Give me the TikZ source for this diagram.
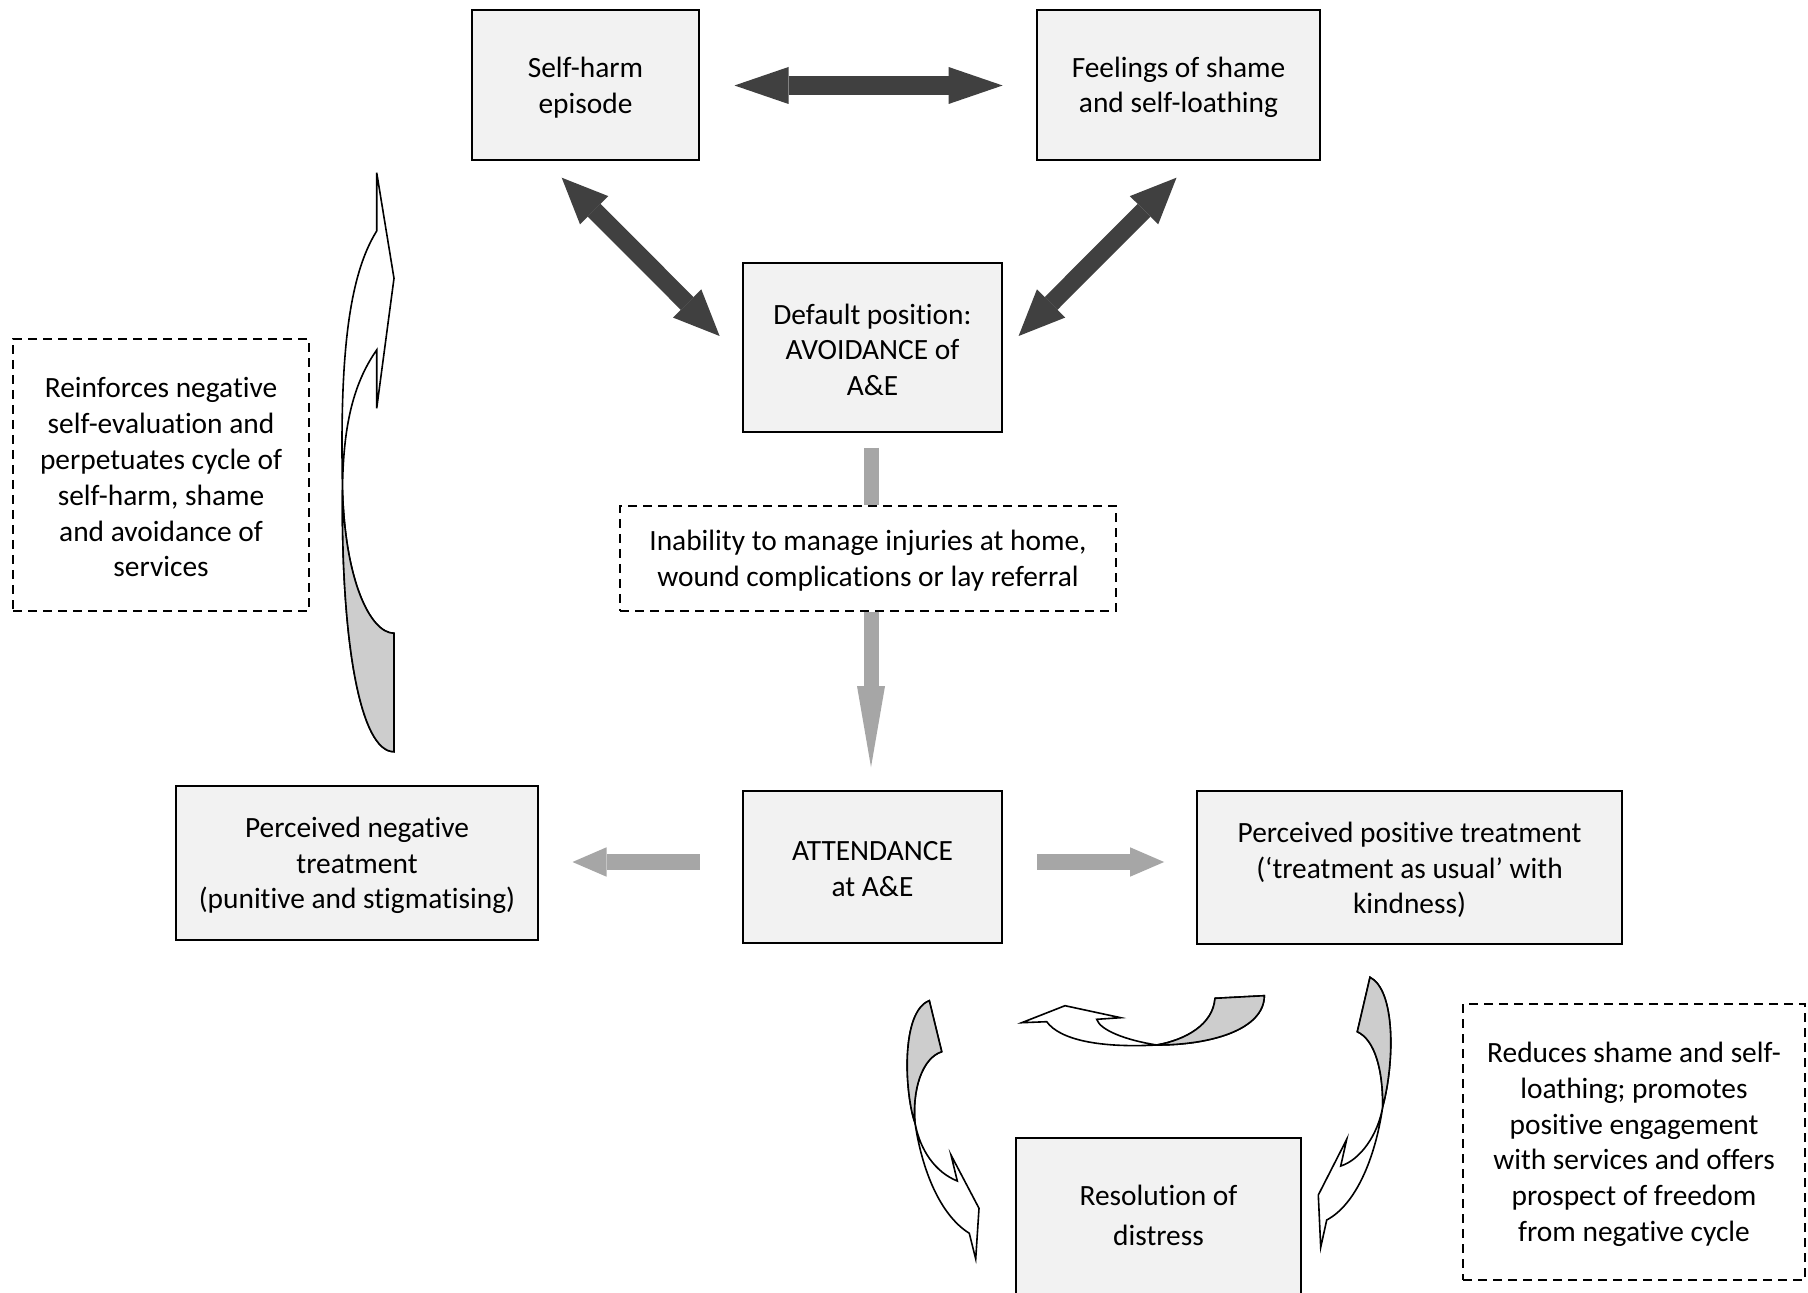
\documentclass[tikz,border=0pt]{standalone}
\usepackage{fontspec}
\setmainfont{Carlito}[Ligatures=NoCommon]
\usetikzlibrary{arrows.meta}
\definecolor{boxgray}{HTML}{F2F2F2}
\definecolor{darkarr}{HTML}{404040}
\definecolor{lightarr}{HTML}{A6A6A6}
\definecolor{ribbon}{HTML}{CDCDCD}
\tikzset{
  txt/.style={label={[align=center, inner sep=0pt, font=\fontsize{14.7}{17.9}\selectfont, yshift=-1.2pt]center:{#1}}},
  txtup/.style={label={[align=center, inner sep=0pt, font=\fontsize{14.7}{17.9}\selectfont, yshift=1.8pt]center:{#1}}},
  solidbox/.style={draw, fill=boxgray, line width=0.9pt, inner sep=0pt},
  dashbox/.style={draw, fill=white, line width=0.7pt, dash pattern=on 4.5pt off 3pt, inner sep=0pt},
  darrow/.style={draw=darkarr, line width=9.5pt,
    {Triangle[length=27pt,width=18.5pt,line width=0pt]}-{Triangle[length=27pt,width=18.5pt,line width=0pt]}},
  ddarrow/.style={draw=darkarr, line width=9pt,
    {Triangle[length=23pt,width=20pt,line width=0pt]}-{Triangle[length=23pt,width=20pt,line width=0pt]}},
  garrowv/.style={draw=lightarr, line width=7.5pt, -{Triangle[length=40.5pt,width=14pt,line width=0pt]}},
  garrowh/.style={draw=lightarr, line width=8pt, -{Triangle[length=17pt,width=14.7pt,line width=0pt]}},
  gbar/.style={draw=lightarr, line width=7.5pt},
  ribwhite/.style={fill=white, draw=black, line width=0.8pt, line join=miter},
  ribgray/.style={fill=ribbon, draw=black, line width=0.8pt, line join=miter}
}
\begin{document}
\begin{tikzpicture}[x=0.5pt, y=-0.5pt]
\useasboundingbox (0,0) rectangle (1808,1293);
\fill[white] (0,0) rectangle (1808,1293);

% boxes
\node[solidbox, minimum width=113.5pt, minimum height=75pt, txt={Self-harm\\episode}] (sh) at (585.5,85) {};
\node[solidbox, minimum width=141.5pt, minimum height=75pt, txt={Feelings of shame\\and self-loathing}] (fs) at (1178.5,85) {};
\node[solidbox, minimum width=129.5pt, minimum height=84.5pt, txt={Default position:\\AVOIDANCE of\\A\&E}] (dp) at (872.5,347.5) {};
\node[dashbox, minimum width=248pt, minimum height=52.5pt, txt={Inability to manage injuries at home,\\wound complications or lay referral}] (inab) at (868,558.5) {};
\node[dashbox, minimum width=148pt, minimum height=136pt, txt={Reinforces negative\\self-evaluation and\\perpetuates cycle of\\self-harm, shame\\and avoidance of\\services}] (rein) at (161,475) {};
\node[solidbox, minimum width=181pt, minimum height=77pt, txt={Perceived negative\\treatment\\(punitive and stigmatising)}] (neg) at (357,863) {};
\node[solidbox, minimum width=129.5pt, minimum height=76pt, txt={ATTENDANCE\\at A\&E}] (att) at (872.5,867) {};
\node[solidbox, minimum width=212.5pt, minimum height=76.5pt, txt={Perceived positive treatment\\(‘treatment as usual’ with\\kindness)}] (pos) at (1409.5,867.5) {};
\node[solidbox, minimum width=142.5pt, minimum height=81pt, txtup={Resolution of\\[2pt]distress}] (res) at (1158.5,1219) {};
\node[dashbox, minimum width=171pt, minimum height=138pt, txt={Reduces shame and self-\\loathing; promotes\\positive engagement\\with services and offers\\prospect of freedom\\from negative cycle}] (red) at (1634,1142) {};

% dark double arrows
\coordinate (hl) at (734.5,85.5);
\coordinate (hr) at (1002.6,85.5);
\coordinate (d1a) at (561.7,177.7);
\coordinate (d1b) at (719.6,336);
\coordinate (d2a) at (1176.5,177.7);
\coordinate (d2b) at (1018.6,336);
\draw[darrow] (hl) -- (hr);
\draw[ddarrow] (d1a) -- (d1b);
\draw[ddarrow] (d2a) -- (d2b);

% light gray arrows
\draw[gbar, shorten <=7.5pt] ([xshift=-0.75pt]dp.south) -- ([xshift=-0.75pt]dp.south |- inab.north);
\draw[garrowv, shorten >=11.5pt] ([xshift=-0.75pt]dp.south |- inab.south) -- ([xshift=-0.75pt]dp.south |- att.north);
\draw[garrowh, shorten <=21.25pt, shorten >=16.8pt] ([yshift=2.5pt]att.west) -- ([yshift=2.5pt]att.west -| neg.east);
\draw[garrowh, shorten <=17pt, shorten >=16pt] ([yshift=2.5pt]att.east) -- ([yshift=2.5pt]att.east -| pos.west);

% big left curved arrow
\filldraw[ribwhite] (394,751.7) .. controls (360,752) and (341,640) .. (342.5,490)
  .. controls (340,370) and (346,280) .. (376.7,231)
  -- (376.7,172.7) -- (394,278.3) -- (376.7,408.3) -- (376.7,350)
  .. controls (352,385) and (343,430) .. (342.5,490)
  .. controls (345,580) and (370,633) .. (394,633.3) -- cycle;
\filldraw[ribgray] (342.5,490) .. controls (341,640) and (360,752) .. (394,751.7)
  -- (394,633.3) .. controls (370,633) and (345,580) .. (342.5,490) -- cycle;

% bottom-left small curved arrow
\filldraw[ribwhite] (929.3,1000.7) -- (941.7,1051.7)
  .. controls (922,1058) and (912,1090) .. (915,1123)
  .. controls (920,1150) and (935,1172) .. (957.3,1181)
  -- (951,1155) -- (979,1208.3) -- (975.7,1259) -- (969.3,1233.3)
  .. controls (940,1215) and (922,1170) .. (915,1123)
  .. controls (905,1095) and (900,1012) .. (929.3,1000.7) -- cycle;
\filldraw[ribgray] (929.3,1000.7) .. controls (900,1012) and (905,1095) .. (915,1123)
  .. controls (912,1090) and (922,1058) .. (941.7,1051.7) -- cycle;

% top-middle curved arrow
\filldraw[ribwhite] (1215,998.3) -- (1264.3,995.7)
  .. controls (1264,1030) and (1210,1045) .. (1156.7,1045)
  .. controls (1100,1048) and (1060,1040) .. (1046.7,1021.7)
  -- (1021.7,1022.7) -- (1065,1005.7) -- (1120.7,1017.7) -- (1096.7,1019.3)
  .. controls (1100,1030) and (1125,1040) .. (1156.7,1045)
  .. controls (1185,1040) and (1213,1025) .. (1215,998.3) -- cycle;
\filldraw[ribgray] (1215,998.3) -- (1264.3,995.7)
  .. controls (1264,1030) and (1210,1045) .. (1156.7,1045)
  .. controls (1185,1040) and (1213,1025) .. (1215,998.3) -- cycle;

% right small curved arrow
\filldraw[ribwhite] (1370,977.3) .. controls (1395,990) and (1395,1060) .. (1382.7,1106.7)
  .. controls (1375,1160) and (1355,1205) .. (1326.7,1220)
  -- (1320.7,1247.3) -- (1318.3,1195) -- (1346.7,1139.3) -- (1340.7,1166)
  .. controls (1360,1160) and (1378,1135) .. (1382.7,1106.7)
  .. controls (1383,1070) and (1375,1040) .. (1357.3,1031.7) -- cycle;
\filldraw[ribgray] (1370,977.3) .. controls (1395,990) and (1395,1060) .. (1382.7,1106.7)
  .. controls (1383,1070) and (1375,1040) .. (1357.3,1031.7) -- cycle;
\end{tikzpicture}
\end{document}
